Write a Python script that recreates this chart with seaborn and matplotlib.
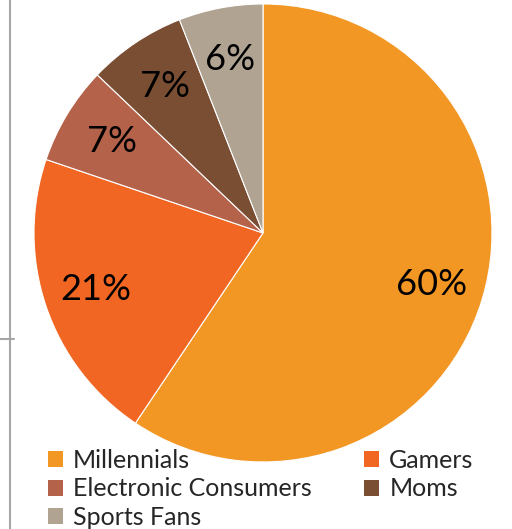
import seaborn as sns
import matplotlib.pyplot as plt
from matplotlib.lines import Line2D
from matplotlib.patches import Patch

sns.set_style("white")
plt.rcParams['font.family'] = ['Lato', 'DejaVu Sans']

# Audience share data
segments = ["Millennials", "Gamers", "Electronic Consumers", "Moms", "Sports Fans"]
shares = [60, 21, 7, 7, 6]
colors = ["#F29624", "#F26624", "#B4624A", "#7A4E33", "#B0A392"]

fig = plt.figure(figsize=(5.12, 5.29), dpi=100)
ax = fig.add_axes([0.0664, 0.1267, 0.8945, 0.8658])

total = sum(shares)
wedges, texts, autotexts = ax.pie(
    shares, colors=colors, startangle=90, counterclock=False,
    autopct=lambda p: f"{round(p * total / 100)}%", pctdistance=0.77,
    wedgeprops={"edgecolor": "white", "linewidth": 0.8},
    textprops={"fontsize": 26, "color": "black"},
)
ax.set_aspect("equal")
ax.set_xlim(-1, 1)
ax.set_ylim(-1, 1)

# frame lines on the left edge
fig.add_artist(Line2D([10 / 512, 10 / 512], [0, 1], color="#A6A6A6", lw=1.5))
fig.add_artist(Line2D([0, 14 / 512], [1 - 339 / 529] * 2, color="#A6A6A6", lw=1.5))

# legend laid out row by row: Millennials, Gamers / Electronic, Moms / Sports
order = [0, 2, 4, 1, 3]
handles = [Patch(facecolor=colors[i], edgecolor="none") for i in order]
labels = [segments[i] for i in order]
fig.legend(handles, labels, ncol=2, loc="upper left",
           bbox_to_anchor=(48 / 512, 1 - 449 / 529),
           frameon=False, fontsize=18, handlelength=0.6, handleheight=0.6,
           handletextpad=0.4, labelspacing=0.22, columnspacing=2.1,
           borderaxespad=0, borderpad=0)

fig.savefig("out.png", dpi=100)
plt.close(fig)
